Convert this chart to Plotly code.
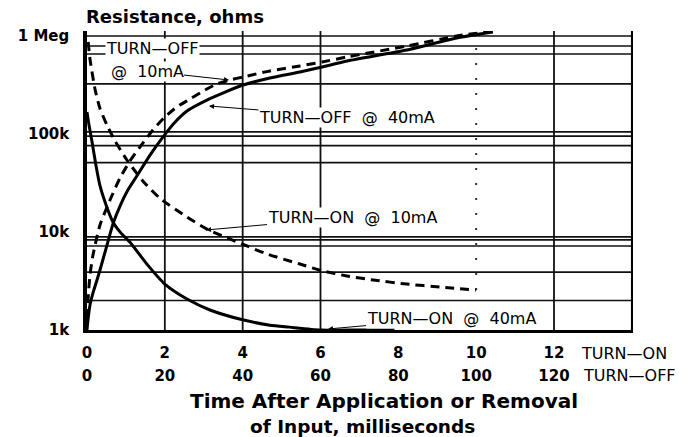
import plotly.graph_objects as go

# ---------------- data ----------------
# TURN-ON curves: time in ms (0-12 scale)
on40_ms = [0.0, 0.05, 0.13, 0.23, 0.33, 0.49, 0.67, 0.87, 1.1, 1.54, 2.0, 2.57, 3.16, 4.0, 4.7, 5.2, 6.0, 7.0, 7.9]
on40_ohm = [168e3, 124e3, 83e3, 48e3, 30e3, 18.9e3, 12.6e3, 9.8e3, 7.9e3, 4.7e3, 2.94e3, 2.07e3, 1.6e3, 1.27e3, 1.12e3, 1.07e3, 1.0e3, 1.0e3, 1.0e3]

on10_ms = [0.03, 0.08, 0.21, 0.33, 0.51, 0.72, 1.03, 1.44, 1.88, 2.57, 3.08, 3.6, 4.11, 4.62, 5.47, 6.06, 6.68, 7.35, 8.22, 9.07, 10.0]
on10_ohm = [869e3, 569e3, 281e3, 184e3, 124e3, 85e3, 54e3, 33e3, 22e3, 14.2e3, 10.7e3, 8.7e3, 7.2e3, 5.97e3, 4.71e3, 4.0e3, 3.56e3, 3.24e3, 2.94e3, 2.75e3, 2.56e3]

# TURN-OFF curves: time in ms (0-120 scale)
off40_ms = [0.0, 0.26, 0.77, 1.54, 2.57, 3.34, 5.14, 6.68, 8.48, 10.5, 12.8, 16.2, 19.5, 22.6, 25.7, 30.8, 35.5, 40.1, 47.0, 54.7, 60.4, 66.8, 82.2, 95.0, 104.3]
off40_ohm = [1.0e3, 1.27e3, 1.8e3, 2.39e3, 3.24e3, 4.1e3, 7.36e3, 12.1e3, 18.4e3, 26.8e3, 37.3e3, 61e3, 93e3, 132e3, 172e3, 222e3, 268e3, 316e3, 373e3, 430e3, 483e3, 556e3, 720e3, 955e3, 1.1e6]

off10_ms = [0.13, 0.26, 0.77, 1.54, 3.34, 5.91, 8.48, 11.05, 13.6, 16.95, 20.0, 23.1, 26.5, 30.3, 33.4, 36.7, 40.1, 47.0, 54.7, 60.4, 66.8, 82.2, 95.0, 104.3]
off10_ohm = [1.32e3, 2.02e3, 3.64e3, 5.82e3, 11.8e3, 21.2e3, 35.6e3, 53e3, 73.6e3, 110e3, 149e3, 189e3, 228e3, 281e3, 324e3, 356e3, 382e3, 440e3, 494e3, 543e3, 611e3, 791e3, 1.0e6, 1.12e6]

# grid as drawn on the original chart
grid_ohm = [1e6, 791e3, 655e3, 324e3, 105e3, 95e3, 76e3, 51e3, 8.9e3, 8.3e3, 7.2e3, 3.9e3, 2.0e3]
grid_ms_solid = [2, 4, 6, 12, 14]
grid_ms_dotted = [10]

on_ticks = [0, 2, 4, 6, 8, 10, 12]
off_ticks = [0, 20, 40, 60, 80, 100, 120]
y_ticks = [1e3, 1e4, 1e5, 1e6]
y_ticktext = ["1k", "10k", "100k", "1 Meg"]

# ---------------- layout constants ----------------
W, H = 694, 437
L, R, T, B = 87, 61, 31, 107
PW, PH = W - L - R, H - T - B
XMAX = 14.03
YLOG = [3.0, 3.0 + PH / 98.0]
YTOP = 10 ** YLOG[1]


def P(px, py):
    return (px - L) / PW, (T + PH - py) / PH


fig = go.Figure()

# horizontal grid
gx, gy = [], []
for g in grid_ohm:
    gx += [0, XMAX, None]
    gy += [g, g, None]
fig.add_trace(go.Scatter(x=gx, y=gy, mode="lines", line=dict(color="#111", width=1.7),
                         hoverinfo="skip"))
# vertical grid
vx, vy = [], []
for t in grid_ms_solid:
    vx += [t, t, None]
    vy += [1e3, YTOP, None]
fig.add_trace(go.Scatter(x=vx, y=vy, mode="lines", line=dict(color="#111", width=1.8),
                         hoverinfo="skip"))
dx, dy = [], []
for t in grid_ms_dotted:
    dx += [t, t, None]
    dy += [2.56e3, 910e3, None]
fig.add_trace(go.Scatter(x=dx, y=dy, mode="lines",
                         line=dict(color="#333", width=2, dash="2px,13px"), hoverinfo="skip"))

# curves
fig.add_trace(go.Scatter(x=on40_ms, y=on40_ohm, mode="lines", name="TURN-ON @ 40mA",
                         line=dict(color="black", width=3, shape="spline", smoothing=0.6)))
fig.add_trace(go.Scatter(x=on10_ms, y=on10_ohm, mode="lines", name="TURN-ON @ 10mA",
                         line=dict(color="black", width=3, dash="9px,6px", shape="spline", smoothing=0.6)))
fig.add_trace(go.Scatter(x=off40_ms, y=off40_ohm, mode="lines", name="TURN-OFF @ 40mA", xaxis="x2",
                         line=dict(color="black", width=3, shape="spline", smoothing=0.6)))
fig.add_trace(go.Scatter(x=off10_ms, y=off10_ohm, mode="lines", name="TURN-OFF @ 10mA", xaxis="x2",
                         line=dict(color="black", width=3, dash="9px,6px", shape="spline", smoothing=0.6)))

bold = dict(family="DejaVu Sans", size=15, color="black", weight="bold")
thin = dict(family="DejaVu Sans", size=16, color="black")

fig.update_layout(
    width=W, height=H,
    margin=dict(l=L, r=R, t=T, b=B),
    paper_bgcolor="white", plot_bgcolor="white",
    showlegend=False,
    xaxis=dict(range=[0, XMAX], tickvals=on_ticks, ticktext=[str(v) for v in on_ticks],
               showgrid=False, zeroline=False, showline=True, linewidth=2.5, linecolor="black",
               ticks="", tickfont=bold, ticklabelstandoff=7),
    xaxis2=dict(range=[0, XMAX * 10], overlaying="x", anchor="y", side="bottom",
                tickvals=off_ticks, ticktext=[str(v) for v in off_ticks],
                showgrid=False, zeroline=False, showline=False, ticks="",
                tickfont=bold, ticklabelstandoff=35),
    yaxis=dict(type="log", range=YLOG, tickvals=y_ticks, ticktext=y_ticktext,
               showgrid=False, zeroline=False, showline=True, linewidth=3.5, linecolor="black",
               ticks="", tickfont=bold, ticklabelstandoff=11),
)

# right border
fig.add_trace(go.Scatter(x=[XMAX, XMAX], y=[1e3, YTOP], mode="lines",
                         line=dict(color="black", width=4), hoverinfo="skip"))


def label(text, px, py, tip=None, font=thin, bg="white", xanchor="center"):
    if tip is None:
        x, y = P(px, py)
        fig.add_annotation(x=x, y=y, xref="paper", yref="paper", text=text, showarrow=False,
                           font=font, bgcolor=bg, xanchor=xanchor, yanchor="middle", borderpad=0)
    else:
        x, y = P(*tip)
        fig.add_annotation(x=x, y=y, xref="paper", yref="paper", text=text, showarrow=True,
                           ax=px - tip[0], ay=py - tip[1], arrowhead=2, arrowsize=1, arrowwidth=1,
                           arrowcolor="black", font=font, bgcolor=bg, borderpad=0)


NB = "\u00a0"
label("TURN—OFF", 152, 49)
label("@" + NB * 2 + "10mA", 147, 71, tip=(229, 80))
label("TURN—OFF" + NB * 2 + "@" + NB * 2 + "40mA", 347, 117, tip=(209, 106))
label("TURN—ON" + NB * 2 + "@" + NB * 2 + "10mA", 352, 217, tip=(206, 230))
label("TURN—ON" + NB * 2 + "@" + NB * 2 + "40mA", 451, 318, tip=(328, 329))
label("TURN—ON", 624, 353, bg=None)
label("TURN—OFF", 629, 376, bg=None)

tfont = dict(family="DejaVu Sans", size=18, color="black", weight="bold")
label("Resistance, ohms", 85, 16, font=tfont, bg=None, xanchor="left")
label("Time After Application or Removal", 384, 401, font=dict(tfont, size=20), bg=None)
label("of Input, milliseconds", 362, 426, font=dict(tfont, size=18.5), bg=None)

fig.write_html("out.html", post_script="document.body.style.margin='0px';",
               config={"displayModeBar": False})
